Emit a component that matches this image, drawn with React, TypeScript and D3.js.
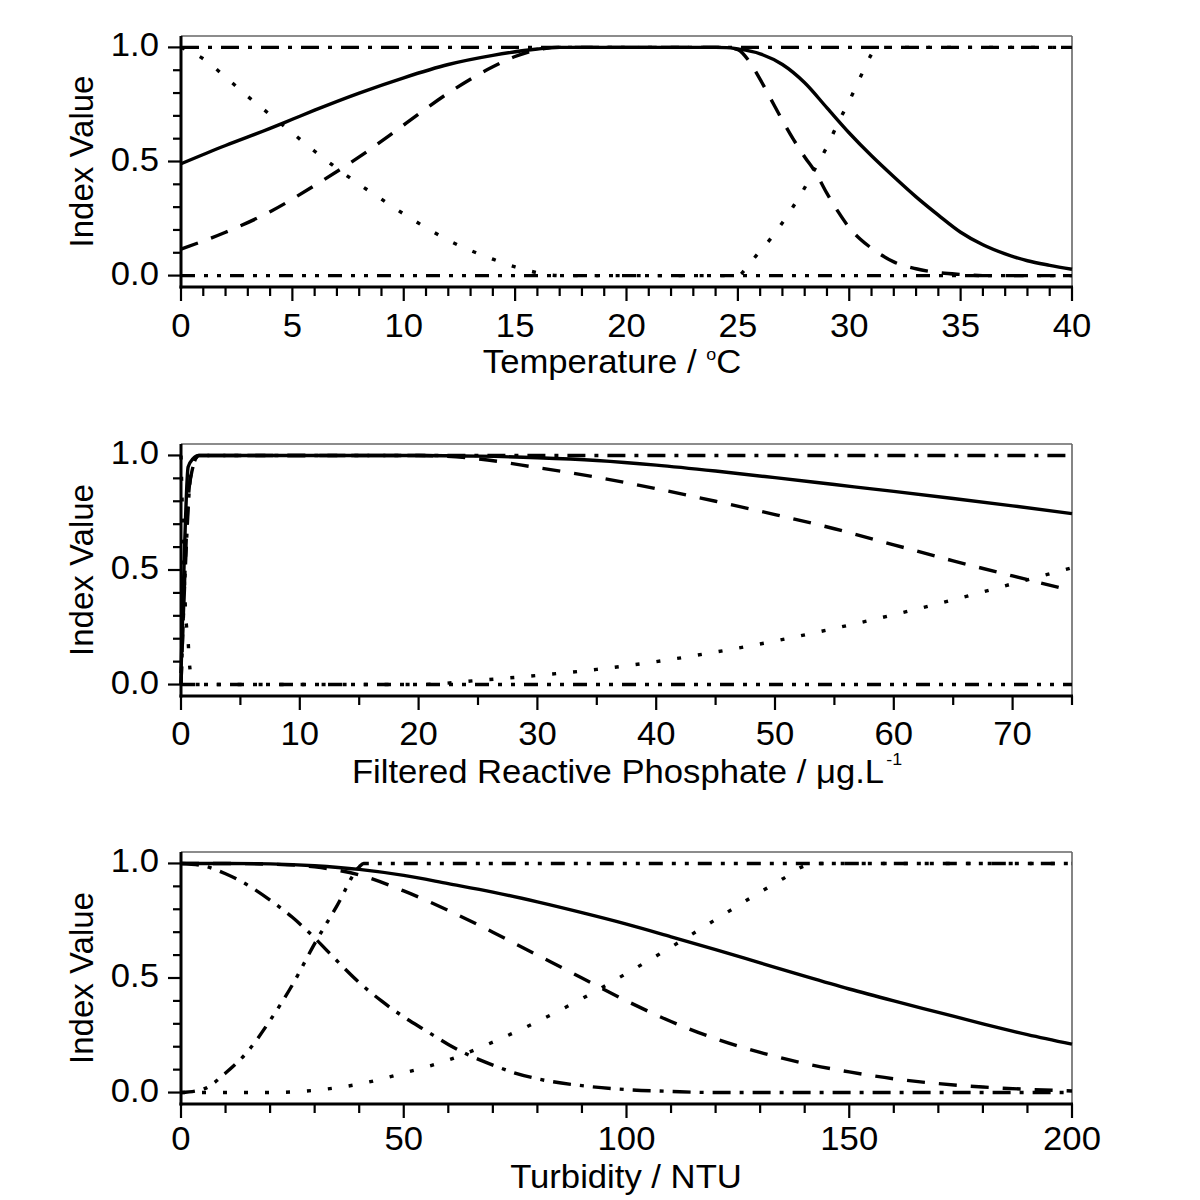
import React from "react";
import * as d3 from "d3";

// ---------- Panel 1: Temperature ----------
const tempTicks = [0, 5, 10, 15, 20, 25, 30, 35, 40];
const tempSolidX = [0, 2, 4, 5, 6, 8, 10, 12, 14, 16, 17, 18, 24, 24.5, 25, 26, 27, 28, 29, 30, 31, 32, 33, 34, 35, 36, 37, 38, 39, 40];
const tempSolidY = [0.49, 0.57, 0.645, 0.685, 0.725, 0.8, 0.867, 0.925, 0.965, 0.993, 1.0, 1.0, 1.0, 0.999, 0.993, 0.972, 0.925, 0.845, 0.735, 0.625, 0.525, 0.433, 0.345, 0.265, 0.19, 0.135, 0.095, 0.065, 0.045, 0.028];
const tempDashedX = [0, 2, 4, 6, 8, 10, 12, 14, 15, 16, 17, 24.5, 25, 25.5, 26, 26.5, 27, 27.5, 28, 28.5, 29, 29.5, 30, 30.5, 31, 32, 33, 34, 35, 36, 40];
const tempDashedY = [0.116, 0.19, 0.28, 0.395, 0.52, 0.66, 0.8, 0.915, 0.96, 0.99, 1.0, 1.0, 0.99, 0.94, 0.86, 0.77, 0.68, 0.596, 0.52, 0.45, 0.36, 0.28, 0.21, 0.159, 0.12, 0.06, 0.03, 0.013, 0.005, 0, 0];
const tempDottedX = [0, 1, 2, 3, 4, 5, 6, 7, 8, 9, 10, 11, 12, 13, 14, 15, 16, 17, 25, 25.5, 26, 26.5, 27, 27.5, 28, 28.5, 29, 29.5, 30, 30.5, 31, 31.2, 40];
const tempDottedY = [1.0, 0.95, 0.87, 0.785, 0.705, 0.625, 0.545, 0.47, 0.4, 0.335, 0.27, 0.21, 0.155, 0.11, 0.072, 0.038, 0.013, 0, 0, 0.05, 0.108, 0.165, 0.232, 0.305, 0.385, 0.475, 0.565, 0.67, 0.765, 0.87, 0.97, 1.0, 1.0];
const tempDashDotX = [0, 40];
const tempDashDotY = [1, 1];
const tempDashDotDotX = [0, 40];
const tempDashDotDotY = [0, 0];

// ---------- Panel 2: Filtered Reactive Phosphate ----------
const frpTicks = [0, 10, 20, 30, 40, 50, 60, 70];
const frpSolidX = [0, 0.3, 0.6, 1.0, 1.5, 20, 25, 30, 35, 40, 45, 50, 55, 60, 65, 70, 75];
const frpSolidY = [0.05, 0.6, 0.95, 0.985, 1.0, 1.0, 0.997, 0.99, 0.978, 0.958, 0.932, 0.903, 0.873, 0.843, 0.812, 0.78, 0.746];
const frpDashedX = [0, 0.3, 0.6, 0.9, 1.5, 20, 25, 30, 35, 40, 45, 50, 55, 60, 65, 70, 75];
const frpDashedY = [0, 0.45, 0.8, 0.93, 1.0, 1.0, 0.985, 0.947, 0.905, 0.855, 0.8, 0.742, 0.68, 0.61, 0.54, 0.474, 0.41];
const frpDottedX = [0, 0.2, 0.4, 0.6, 0.7, 0.9, 1.2, 20, 25, 30, 35, 40, 45, 50, 55, 60, 65, 70, 75];
const frpDottedY = [1.0, 0.6, 0.3, 0.19, 0.1, 0.03, 0, 0, 0.018, 0.04, 0.066, 0.1, 0.142, 0.19, 0.245, 0.305, 0.37, 0.44, 0.51];
const frpDashDotX = [0, 0.4, 0.8, 1.5, 75];
const frpDashDotY = [0, 0.55, 0.9, 1.0, 1.0];
const frpDashDotDotX = [0, 75];
const frpDashDotDotY = [0, 0];

// ---------- Panel 3: Turbidity ----------
const turbTicks = [0, 50, 100, 150, 200];
const turbSolidX = [0, 10, 20, 30, 40, 50, 60, 70, 80, 90, 100, 110, 120, 130, 140, 150, 160, 170, 180, 190, 200];
const turbSolidY = [1.0, 1.0, 0.998, 0.99, 0.974, 0.948, 0.912, 0.875, 0.832, 0.785, 0.735, 0.68, 0.624, 0.566, 0.508, 0.452, 0.4, 0.35, 0.3, 0.253, 0.211];
const turbDashedX = [0, 10, 20, 30, 40, 50, 60, 70, 80, 90, 100, 110, 120, 130, 140, 150, 160, 170, 180, 190, 200];
const turbDashedY = [1.0, 1.0, 0.997, 0.985, 0.95, 0.88, 0.795, 0.7, 0.6, 0.5, 0.4, 0.31, 0.235, 0.175, 0.127, 0.09, 0.06, 0.039, 0.024, 0.014, 0.007];
const turbDottedX = [0, 20, 30, 40, 50, 60, 70, 80, 90, 100, 110, 120, 130, 135, 140, 142, 200];
const turbDottedY = [0, 0, 0.01, 0.037, 0.085, 0.142, 0.22, 0.31, 0.41, 0.52, 0.635, 0.755, 0.875, 0.932, 0.99, 1.0, 1.0];
const turbDashDotX = [0, 5, 10, 15, 20, 25, 30, 35, 40, 45, 50, 55, 60, 65, 70, 75, 80, 90, 100, 110, 120, 200];
const turbDashDotY = [1.0, 0.99, 0.955, 0.905, 0.84, 0.765, 0.675, 0.575, 0.48, 0.4, 0.33, 0.27, 0.21, 0.16, 0.12, 0.085, 0.06, 0.03, 0.013, 0.005, 0, 0];
const turbDashDotDotX = [0, 5, 10, 15, 20, 25, 30, 35, 40, 41, 200];
const turbDashDotDotY = [0, 0.015, 0.085, 0.18, 0.315, 0.47, 0.65, 0.815, 0.985, 1.0, 1.0];

const yTicks = [0, 0.5, 1.0];
const yTickLabels = ["0.0", "0.5", "1.0"];

const FONT = "'Liberation Sans', Arial, Helvetica, sans-serif";
const FS = 33;
const SX = 1.05; // horizontal stretch of horizontal texts in the reference
const X0 = 181;
const X1 = 1072;

const STYLES = {
  solid: { dash: undefined as string | undefined },
  dashed: { dash: "18 14" },
  dotted: { dash: "4 17" },
  dashDot: { dash: "18 9 4 9" },
  dashDotDot: { dash: "14 9 4 9 4 9" },
};

type Series = { kind: keyof typeof STYLES; xs: number[]; ys: number[] };

function HText(props: { x: number; y: number; anchor: string; children: React.ReactNode }) {
  return (
    <g transform={`translate(${props.x},${props.y}) scale(${SX},1)`}>
      <text x={0} y={0} textAnchor={props.anchor as any} fontSize={FS} fontFamily={FONT} fill="#000">
        {props.children}
      </text>
    </g>
  );
}

function Panel(props: {
  top: number;
  bottom: number;
  xMax: number;
  majors: number[];
  minorStep: number;
  series: Series[];
  title: React.ReactNode;
  titleOffset: number;
  titleX: number;
  labelOffset: number;
}) {
  const { top, bottom, xMax, majors, minorStep, series, title, titleOffset, titleX, labelOffset } = props;
  const x = d3.scaleLinear().domain([0, xMax]).range([X0, X1]);
  const y = d3.scaleLinear().domain([-0.05, 1.05]).range([bottom, top]);
  const minors = d3.range(0, xMax + 1e-9, minorStep).filter((v) => !majors.some((m) => Math.abs(m - v) < 1e-9));
  const yMinors = d3.range(0, 11).map((i) => i / 10).filter((v) => !yTicks.some((m) => Math.abs(m - v) < 1e-9));
  const line = d3
    .line<[number, number]>()
    .x((d) => x(d[0]))
    .y((d) => y(d[1]))
    .curve(d3.curveMonotoneX);
  const midY = (y(0) + y(1)) / 2;
  return (
    <g>
      <line x1={X0} y1={top} x2={X1} y2={top} stroke="#666" strokeWidth={1.6} />
      <line x1={X1} y1={top} x2={X1} y2={bottom} stroke="#666" strokeWidth={1.6} />
      {series.map((s, i) => {
        const st = STYLES[s.kind];
        const pts = s.xs.map((v, j) => [v, s.ys[j]] as [number, number]);
        return (
          <path
            key={i}
            d={line(pts) || ""}
            fill="none"
            stroke="#000"
            strokeWidth={3.4}
            strokeDasharray={st.dash}
            strokeLinecap="butt"
            strokeLinejoin="round"
          />
        );
      })}
      <line x1={X0} y1={top} x2={X0} y2={bottom + 1.5} stroke="#000" strokeWidth={3} />
      <line x1={X0 - 1.5} y1={bottom} x2={X1 + 1} y2={bottom} stroke="#000" strokeWidth={3} />
      {majors.map((t) => (
        <line key={"xM" + t} x1={x(t)} x2={x(t)} y1={bottom} y2={bottom + 14} stroke="#000" strokeWidth={2.2} />
      ))}
      {minors.map((t) => (
        <line key={"xm" + t} x1={x(t)} x2={x(t)} y1={bottom} y2={bottom + 9} stroke="#000" strokeWidth={2.2} />
      ))}
      {yTicks.map((t) => (
        <line key={"yM" + t} x1={X0 - 13} x2={X0} y1={y(t)} y2={y(t)} stroke="#000" strokeWidth={2.2} />
      ))}
      {yMinors.map((t) => (
        <line key={"ym" + t} x1={X0 - 8} x2={X0} y1={y(t)} y2={y(t)} stroke="#000" strokeWidth={2.2} />
      ))}
      {majors.map((t) => (
        <HText key={"xl" + t} x={x(t)} y={bottom + labelOffset} anchor="middle">
          {t}
        </HText>
      ))}
      {yTicks.map((t, i) => (
        <HText key={"yl" + t} x={159} y={y(t) + 9} anchor="end">
          {yTickLabels[i]}
        </HText>
      ))}
      <text transform={`translate(93, ${midY}) rotate(-90)`} textAnchor="middle" fontSize={FS} fontFamily={FONT}>
        Index Value
      </text>
      <HText x={titleX} y={bottom + titleOffset} anchor="middle">
        {title}
      </HText>
    </g>
  );
}

export default function App() {
  return (
    <svg
      width={1200}
      height={1200}
      viewBox="0 0 1200 1200"
      style={{ position: "absolute", left: 0, top: 0, background: "#fff" }}
    >
      <rect x={0} y={0} width={1200} height={1200} fill="#fff" />
      <Panel
        top={36}
        bottom={287}
        xMax={40}
        majors={tempTicks}
        minorStep={1}
        labelOffset={50}
        titleOffset={86}
        titleX={612}
        title={
          <>
            Temperature / <tspan fontSize={17} dy={-13}>o</tspan>
            <tspan dy={13}>C</tspan>
          </>
        }
        series={[
          { kind: "dashDot", xs: tempDashDotX, ys: tempDashDotY },
          { kind: "dashDotDot", xs: tempDashDotDotX, ys: tempDashDotDotY },
          { kind: "dotted", xs: tempDottedX, ys: tempDottedY },
          { kind: "dashed", xs: tempDashedX, ys: tempDashedY },
          { kind: "solid", xs: tempSolidX, ys: tempSolidY },
        ]}
      />
      <Panel
        top={444}
        bottom={696}
        xMax={75}
        majors={frpTicks}
        minorStep={5}
        labelOffset={49}
        titleOffset={87}
        titleX={627}
        title={
          <>
            Filtered Reactive Phosphate / μg.L<tspan fontSize={17} dx={2} dy={-18}>-1</tspan>
          </>
        }
        series={[
          { kind: "dashDot", xs: frpDashDotX, ys: frpDashDotY },
          { kind: "dashDotDot", xs: frpDashDotDotX, ys: frpDashDotDotY },
          { kind: "dotted", xs: frpDottedX, ys: frpDottedY },
          { kind: "dashed", xs: frpDashedX, ys: frpDashedY },
          { kind: "solid", xs: frpSolidX, ys: frpSolidY },
        ]}
      />
      <Panel
        top={852}
        bottom={1104}
        xMax={200}
        majors={turbTicks}
        minorStep={10}
        labelOffset={46}
        titleOffset={84}
        titleX={626}
        title={<>Turbidity / NTU</>}
        series={[
          { kind: "dashDot", xs: turbDashDotX, ys: turbDashDotY },
          { kind: "dashDotDot", xs: turbDashDotDotX, ys: turbDashDotDotY },
          { kind: "dotted", xs: turbDottedX, ys: turbDottedY },
          { kind: "dashed", xs: turbDashedX, ys: turbDashedY },
          { kind: "solid", xs: turbSolidX, ys: turbSolidY },
        ]}
      />
    </svg>
  );
}
